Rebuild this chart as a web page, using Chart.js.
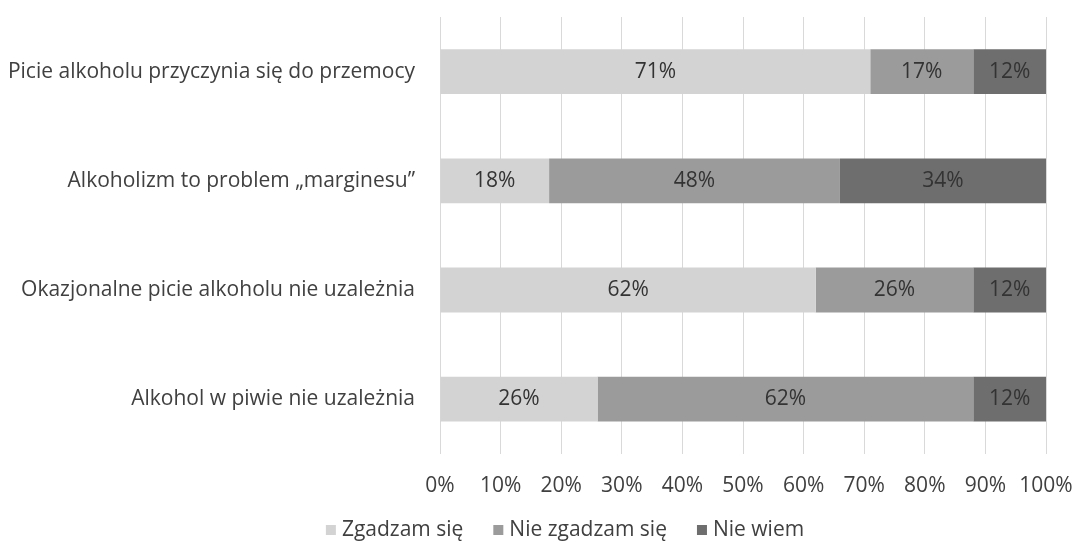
<!DOCTYPE html>
<html>
<head>
<meta charset="utf-8">
<script src="https://cdn.jsdelivr.net/npm/chart.js@4"></script>
<style>
  html, body { margin: 0; padding: 0; background: #ffffff; }
  #wrap { width: 1077px; height: 545px; position: relative; }
</style>
</head>
<body>
<div id="wrap"><canvas id="chart"></canvas></div>
<script>
// Categories (top to bottom)
const categories = [
    'Picie alkoholu przyczynia się do przemocy',
    'Alkoholizm to problem „marginesu”',
    'Okazjonalne picie alkoholu nie uzależnia',
    'Alkohol w piwie nie uzależnia'
];

// Series values (%)
const agree = [71, 18, 62, 26];
const disagree = [17, 48, 26, 62];
const dontKnow = [12, 34, 12, 12];

const seriesNames = ['Zgadzam się', 'Nie zgadzam się', 'Nie wiem'];
const seriesColors = ['#d3d3d3', '#9b9b9b', '#6e6e6e'];
const xTicks = [0, 10, 20, 30, 40, 50, 60, 70, 80, 90, 100];

const fontFamily = '"Open Sans", "Liberation Sans", sans-serif';
const fontSize = 21;
const textColor = '#404040';

// Draw the percentage labels inside each segment
const segmentLabels = {
    id: 'segmentLabels',
    afterDatasetsDraw(chart) {
        const ctx = chart.ctx;
        ctx.save();
        ctx.font = fontSize + 'px ' + fontFamily;
        ctx.fillStyle = '#333333';
        ctx.textAlign = 'center';
        ctx.textBaseline = 'middle';
        chart.data.datasets.forEach((ds, i) => {
            const meta = chart.getDatasetMeta(i);
            meta.data.forEach((bar, j) => {
                const x = (bar.x + bar.base) / 2;
                ctx.fillText(ds.data[j] + '%', x, bar.y);
            });
        });
        ctx.restore();
    }
};

// Legend drawn under the axis, Excel style (small square + label)
const bottomLegend = {
    id: 'bottomLegend',
    afterDraw(chart) {
        const ctx = chart.ctx;
        const box = 10, gapText = 6, gapItem = 30;
        const y = 530;
        ctx.save();
        ctx.font = fontSize + 'px ' + fontFamily;
        ctx.textBaseline = 'middle';
        const widths = seriesNames.map(n => box + gapText + ctx.measureText(n).width);
        const total = widths.reduce((a, b) => a + b, 0) + gapItem * (widths.length - 1);
        let x = 565 - total / 2;
        seriesNames.forEach((name, i) => {
            ctx.fillStyle = seriesColors[i];
            ctx.fillRect(x, y - box / 2, box, box);
            ctx.fillStyle = textColor;
            ctx.fillText(name, x + box + gapText, y);
            x += widths[i] + gapItem;
        });
        ctx.restore();
    }
};

const ctx = document.getElementById('chart').getContext('2d');
new Chart(ctx, {
    type: 'bar',
    data: {
        labels: categories,
        datasets: seriesNames.map((name, i) => ({
            label: name,
            data: [agree, disagree, dontKnow][i],
            backgroundColor: seriesColors[i]
        }))
    },
    options: {
        indexAxis: 'y',
        responsive: true,
        maintainAspectRatio: false,
        animation: false,
        layout: {
            padding: { top: 17, right: 31, bottom: 26, left: 10 }
        },
        datasets: {
            bar: {
                categoryPercentage: 1.0,
                barPercentage: 0.41,
                borderWidth: 0
            }
        },
        plugins: {
            legend: { display: false },
            tooltip: { enabled: false }
        },
        scales: {
            x: {
                stacked: true,
                min: 0,
                max: 100,
                afterBuildTicks: (axis) => {
                    axis.ticks = xTicks.map(v => ({ value: v }));
                },
                afterFit: (scale) => {
                    scale.paddingLeft = 0;
                    scale.paddingRight = 0;
                },
                grid: {
                    color: '#d9d9d9',
                    drawTicks: false
                },
                border: { display: false },
                ticks: {
                    color: textColor,
                    padding: 20,
                    maxRotation: 0,
                    font: { family: fontFamily, size: fontSize },
                    callback: (v) => v + '%'
                }
            },
            y: {
                stacked: true,
                afterFit: (scale) => {
                    scale.width = 430;
                    scale.paddingTop = 0;
                    scale.paddingBottom = 0;
                },
                grid: { display: false, drawTicks: false },
                border: { display: false },
                ticks: {
                    color: textColor,
                    padding: 25,
                    font: { family: fontFamily, size: fontSize }
                }
            }
        }
    },
    plugins: [segmentLabels, bottomLegend]
});
</script>
</body>
</html>
